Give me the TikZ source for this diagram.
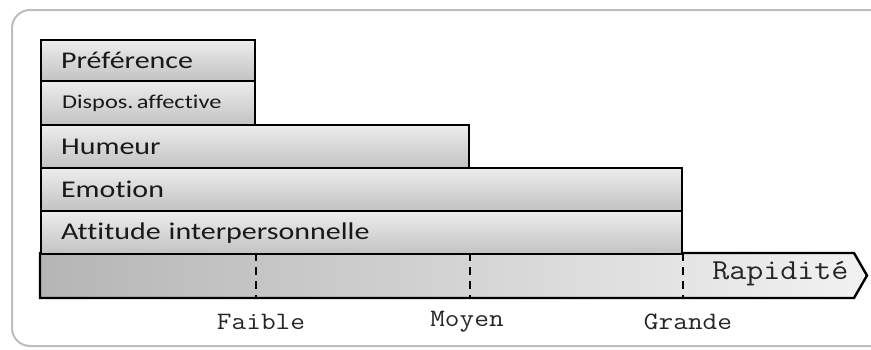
\documentclass[tikz,border=0pt]{standalone}
\usepackage{fontspec}
\setmainfont{Carlito}
\newfontfamily\boxfont[FakeStretch=1.25,Ligatures=NoCommon]{Carlito}
\newfontfamily\monofont[FakeStretch=1.14]{Latin Modern Mono}
\definecolor{frame}{HTML}{BDBDBD}
\definecolor{boxtop}{HTML}{EDEDED}
\definecolor{boxbot}{HTML}{C2C2C2}
\definecolor{axleft}{HTML}{B5B5B5}
\definecolor{axright}{HTML}{F2F2F2}
\tikzset{
  bar/.style={draw=black, line width=2.2pt, top color=boxtop, bottom color=boxbot,
    anchor=north west, inner xsep=20pt, inner ysep=0pt, align=left,
    font=\boxfont\fontsize{24}{28}\selectfont, text=black!90},
  tick/.style={line width=2pt, dash pattern=on 8pt off 6pt},
  scale label/.style={font=\monofont\fontsize{25}{28}\selectfont, text=black!85}
}
\begin{document}
\begin{tikzpicture}[x=1pt,y=-1pt]
\useasboundingbox (0,0) rectangle (871,349);
\begin{scope}
\clip (0,0) rectangle (871,349);
\draw[frame, line width=2pt, rounded corners=18pt] (12,10) rectangle (895,346);
\end{scope}
% axis
\coordinate (a0) at (40,253);
\coordinate (a1) at (854,253);
\coordinate (tip) at (867,275.5);
\coordinate (a2) at (854,298);
\coordinate (a3) at (40,298);
\path[draw=black, line width=2.4pt, line join=miter, left color=axleft, right color=axright]
  (a0) -- (a1) -- (tip) -- (a2) -- (a3) -- cycle;
% bars
\node[bar, minimum height=43pt, text width=601pt] (att) at (40,210) {Attitude interpersonnelle};
\node[bar, minimum height=43pt, text width=601pt] (emo) at (40,167) {Emotion};
\node[bar, minimum height=43pt, text width=388pt] (hum) at (40,124) {Humeur};
\node[bar, minimum height=44pt, text width=174pt, font=\boxfont\fontsize{19.5}{24}\selectfont] (disp) at (40,80) {\hspace*{1pt}Dispos.\,affective};
\node[bar, minimum height=41pt, text width=174pt] (pref) at (40,39) {Préférence};
% ticks
\coordinate (t1b) at (pref.east |- a3);
\coordinate (t2b) at (hum.east |- a3);
\coordinate (t3b) at (emo.east |- a3);
\draw[tick] (pref.east |- a0) -- (t1b);
\draw[tick] (hum.east |- a0) -- (t2b);
\draw[tick] (emo.east |- a0) -- (t3b);
\node[scale label, anchor=east, font=\monofont\fontsize{29}{30}\selectfont] (rap) at (852,274) {Rapidité};
\node[scale label] (faible) at (261,322) {Faible};
\node[scale label] (moyen) at (467,322) {Moyen};
\node[scale label] (grande) at (688,322) {Grande};
\end{tikzpicture}
\end{document}
